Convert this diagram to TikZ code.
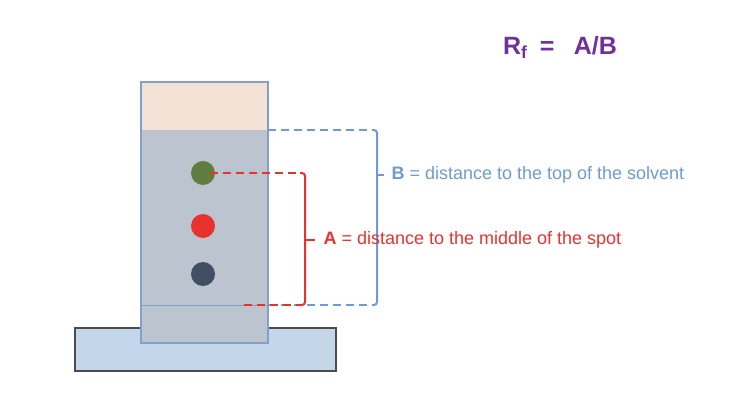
\documentclass[tikz,border=0pt]{standalone}
\usepackage{fontspec}
\setmainfont{Liberation Sans}
\begin{document}
\begin{tikzpicture}[x=1pt,y=-1pt,
  bl/.style={color={rgb,255:red,110;green,155;blue,210},line width=2pt},
  rd/.style={color={rgb,255:red,232;green,50;blue,45},line width=2pt},
  dsh/.style={dash pattern=on 8pt off 5pt},
  spot/.style={circle,minimum size=24pt,inner sep=0pt}]
\useasboundingbox (0,0) rectangle (744,404);
\definecolor{pl}{RGB}{188,196,208}
\definecolor{pe}{RGB}{244,226,214}
\definecolor{ba}{RGB}{196,214,234}
\definecolor{rimc}{RGB}{130,160,200}
\draw[fill=ba,draw=black!70,line width=1.2pt] (75,328) rectangle (336,371);
\fill[pl] (141,82) rectangle (268,343);
\fill[pe] (141,82) rectangle (268,130);
\draw[rimc,line width=1.2pt] (141,82) rectangle (268,343);
\draw[rimc,line width=1pt] (141,305) -- (268,305);
\node[spot,fill={rgb,255:red,96;green,124;blue,62}] (g) at (203,173) {};
\node[spot,fill={rgb,255:red,232;green,50;blue,45}] (r) at (203,226) {};
\node[spot,fill={rgb,255:red,66;green,78;blue,100}] (k) at (203,274) {};
% blue bracket
\coordinate (b1) at (268,130); \coordinate (b2) at (373,130);
\coordinate (b3) at (268,305); \coordinate (b4) at (373,305);
\draw[bl,dsh] (b1) -- (b2);
\draw[bl,dsh] (b3) -- (b4);
\draw[bl,rounded corners=3pt] (b2) -- (377,130) -- (377,305) -- (b4);
\draw[bl] (377,175) -- (384,175);
\node[anchor=west,text={rgb,255:red,110;green,155;blue,210},font=\fontsize{18}{21}\selectfont] (bt) at (388,175) {\textbf{B} = distance to the top of the solvent};
% red bracket
\coordinate (a1) at (210,173); \coordinate (a2) at (300,173);
\coordinate (a3) at (244,305); \coordinate (a4) at (300,305);
\draw[rd,dsh] (a1) -- (a2);
\draw[rd,dsh] (a3) -- (a4);
\draw[rd,rounded corners=3pt] (a2) -- (305,173) -- (305,305) -- (a4);
\draw[rd] (305,240) -- (315,240);
\node[anchor=west,text={rgb,255:red,232;green,50;blue,45},font=\fontsize{18}{21}\selectfont] (at) at (320,240) {\textbf{A} = distance to the middle of the spot};
\node[text={rgb,255:red,112;green,48;blue,160},font=\bfseries\fontsize{25}{30}\selectfont] (rf) at (560,47) {R$_{\mathbf f}$\enspace = \enspace A/B};
\end{tikzpicture}
\end{document}
